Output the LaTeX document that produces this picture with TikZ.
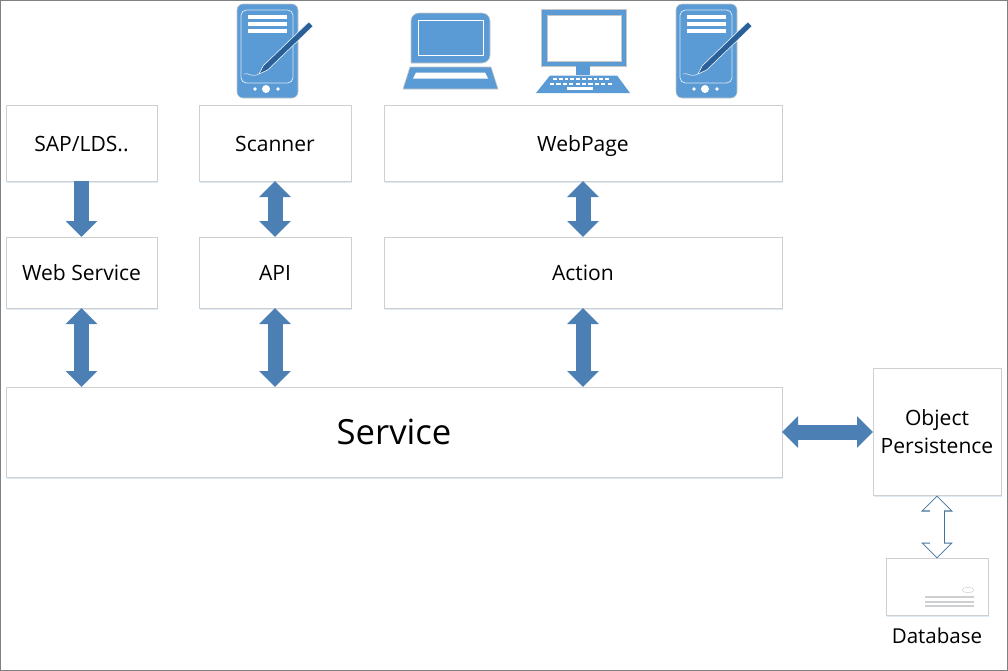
\documentclass[tikz,border=0pt]{standalone}
\usepackage{fontspec}
\setmainfont{Open Sans}
\usetikzlibrary{arrows.meta,positioning,shadows}
\definecolor{iconblue}{HTML}{5B9BD5}
\definecolor{arrowblue}{HTML}{4C80B5}
\definecolor{hollowblue}{HTML}{41719C}
\definecolor{penblue}{HTML}{2A6099}
\definecolor{boxgray}{HTML}{CDCFD1}

\begin{document}
\begin{tikzpicture}[
  x=0.75pt, y=-0.75pt,
  node distance=42pt and 31.5pt,
  box/.style={draw=boxgray, line width=0.75pt, fill=white, outer sep=0pt, inner sep=0pt, align=center, font=\fontsize{15.8}{21}\selectfont,
    drop shadow={shadow xshift=0.8pt, shadow yshift=-1.2pt, fill=iconblue, opacity=0.2}},
  tall/.style={box, minimum height=57pt, text height=15.8pt, text depth=3.5pt},
  flat/.style={box, minimum height=53.25pt, text height=15.8pt, text depth=3.5pt},
  arr/.style={{Triangle[width=23.25pt,length=12pt]}-{Triangle[width=23.25pt,length=12pt]}, line width=11.25pt, draw=arrowblue},
  downarr/.style={-{Triangle[width=23.25pt,length=12pt]}, line width=11.25pt, draw=arrowblue},
  hollow/.style={{Triangle[width=23.25pt,length=12pt]}-{Triangle[width=23.25pt,length=12pt]}, line width=11.25pt, draw=hollowblue},
  hollowin/.style={{Triangle[width=19.6pt,length=10.2pt]}-{Triangle[width=19.6pt,length=10.2pt]}, line width=9.9pt, draw=white, shorten >=1pt, shorten <=1pt},
  tablet/.pic={
    \fill[iconblue, draw=gray!45, line width=0.4pt, rounded corners=4.5pt] (237,4) rectangle (298,98);
    \draw[white!75!iconblue, line width=0.6pt, rounded corners=4pt] (241,10) rectangle (293,83);
    \foreach \liney in {17,24,31}
      \fill[white] (248,\liney-1.6) rectangle (287,\liney+1.6);
    \draw[white!70!iconblue, line width=0.5pt] (244,74) .. controls (249,72) and (250,78) .. (259,74);
    \filldraw[fill=penblue, draw=white, line width=0.4pt, line join=round]
      (259,74) -- (263.4,65.6) -- (308.9,21.8) -- (313.1,26.2) -- (267.6,70) -- cycle;
    \fill[white] (266,89) circle (4);
    \fill[white] (255,89) circle (1.8);
    \fill[white] (278,89) circle (1.8);
  }
]
  \useasboundingbox (0,0) rectangle (1008,671);
  \draw[gray, line width=1.1pt] (0.5,0.5) rectangle (1007.5,670.5);

  % top row
  \node[tall, minimum width=113.25pt, anchor=north west] (sap) at (6,105) {SAP/LDS..};
  \node[tall, minimum width=114pt, right=of sap] (scanner) {Scanner};
  \node[tall, minimum width=298.5pt, right=24.75pt of scanner] (webpage) {WebPage};

  % middle row
  \node[flat, minimum width=113.25pt, below=of sap] (websvc) {Web Service};
  \node[flat, minimum width=114pt, below=of scanner] (api) {API};
  \node[flat, minimum width=298.5pt, below=of webpage] (action) {Action};

  % service and storage
  \node[box, minimum width=582pt, minimum height=67.5pt, font=\fontsize{26}{31}\selectfont, anchor=north west] (service) at (6,387) {Service};
  \node[box, minimum width=96pt, minimum height=95.25pt, right=68.25pt of service] (persist) {Object\\Persistence};
  \node[box, minimum width=76.5pt, minimum height=42.75pt, below=47.25pt of persist] (db) {};
  \node[font=\fontsize{15.4}{18}\selectfont, below=9pt of db, inner sep=0pt] (dblabel) {Database};

  \draw[boxgray] (968,590) ellipse (6 and 2.5);
  \foreach \liney in {597,602,606}
    \draw[boxgray, line width=0.9pt] (925,\liney) -- (974,\liney);

  \draw[downarr] (sap) -- (websvc);
  \draw[arr] (scanner) -- (api);
  \draw[arr] (webpage) -- (action);
  \draw[arr] (websvc) -- (websvc |- service.north);
  \draw[arr] (api) -- (api |- service.north);
  \draw[arr] (action) -- (action |- service.north);
  \draw[arr] (service.east) -- (persist.west);
  \draw[hollow] (persist) -- (db);
  \draw[hollowin] (persist) -- (db);

  % devices
  \pic at (0,0) {tablet};
  \pic at (439,0) {tablet};

  % laptop
  \fill[iconblue, draw=gray!45, line width=0.4pt, rounded corners=6pt] (411,63) -- (411,13) -- (490,13) -- (490,63) [sharp corners] -- cycle;
  \draw[white, line width=0.6pt] (418,20) rectangle (483,55);
  \fill[iconblue, draw=gray!45, line width=0.4pt] (410,67) -- (491,67) -- (498,89) -- (403,89) -- cycle;
  \fill[white] (416,72.5) -- (485,72.5) -- (488,78.5) -- (413,78.5) -- cycle;

  % desktop
  \fill[iconblue, draw=gray!45, line width=0.4pt] (541,9) rectangle (626,66);
  \fill[white, draw=gray!45, line width=0.4pt] (547,15) rectangle (621,61);
  \fill[iconblue] (576,66) rectangle (590,75);
  \fill[iconblue] (550,75.5) -- (617,75.5) -- (630,93) -- (536,93) -- cycle;
  \foreach \keyx in {0,...,9}{
    \fill[white] (553+\keyx*5.8,78) rectangle ++(3.8,2.4);
    \fill[white] (550+\keyx*6.4,82.5) rectangle ++(4.2,2.4);
  }
  \fill[white] (567,87) rectangle (593,89.5);
\end{tikzpicture}
\end{document}
